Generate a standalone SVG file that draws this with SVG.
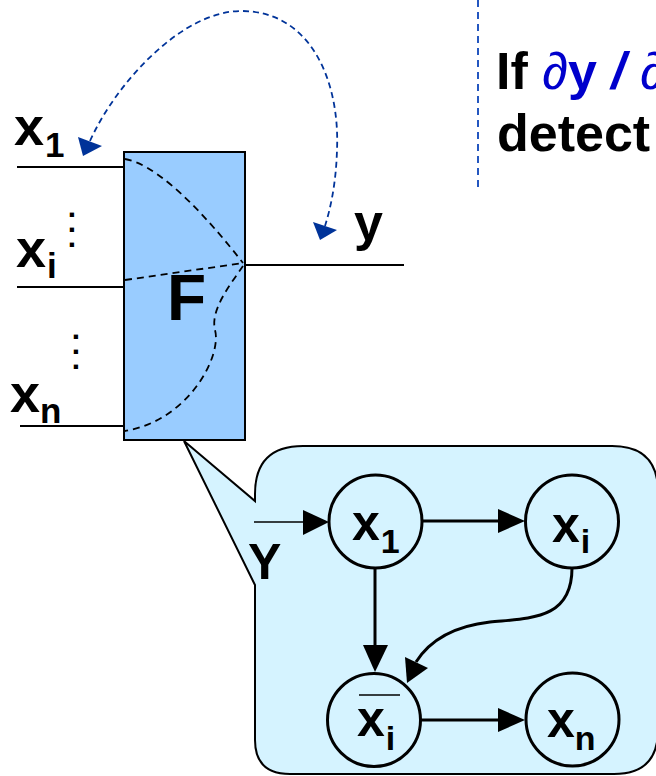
<svg xmlns="http://www.w3.org/2000/svg" width="656" height="776" viewBox="0 0 656 776">
<style>
.lbl{font-family:"Liberation Sans",Arial,sans-serif;font-weight:bold;fill:#000}
.wire{stroke:#000;stroke-width:2;fill:none}
.dash{stroke:#000;stroke-width:1.8;fill:none;stroke-dasharray:7 5}
.node{fill:none;stroke:#000;stroke-width:3}
.edge{stroke:#000;stroke-width:3;fill:none}
.head{fill:#000}
.blue{fill:#0000CC}
.dots{font-family:"Liberation Sans",Arial,sans-serif;font-weight:bold;font-size:30px;fill:#000;text-anchor:middle}
</style>
<rect width="656" height="776" fill="#fff"/>
<!-- vertical blue dashed separator -->
<line x1="478" y1="0" x2="478" y2="190" stroke="#2457C0" stroke-width="2" stroke-dasharray="7 5"/>
<!-- top-right text -->
<text class="lbl" x="496" y="89" font-size="52">If <tspan class="blue" font-style="italic" font-weight="normal">∂</tspan><tspan class="blue">y</tspan><tspan class="blue" font-style="italic"> / </tspan><tspan class="blue" font-style="italic" font-weight="normal">∂</tspan></text>
<text class="lbl" x="497" y="151" font-size="52">detect</text>

<!-- callout -->
<g id="callout">
<path d="M184,441 L255,501 L255,494 Q255,446 303,446 L612,446 Q658,446 658,492 L658,730 Q658,774 614,774 L290,774 Q255,774 255,740 L255,585 Z" fill="#D5F3FF" stroke="#000" stroke-width="2"/>
</g>

<!-- F block -->
<g id="F">
<rect x="124" y="152" width="121" height="288" fill="#99CCFF" stroke="#000" stroke-width="2"/>
<path class="dash" d="M125,159 C150,163 190,195 243,263"/>
<path class="dash" d="M125,280 L243,263"/>
<path class="dash" d="M243,266 C230,285 210,310 215,330 C222,355 190,420 125,431"/>
<text class="lbl" x="167" y="320" font-size="64">F</text>
</g>

<!-- wires -->
<g id="wires">
<line class="wire" x1="17" y1="167" x2="124" y2="167"/>
<line class="wire" x1="17" y1="287" x2="124" y2="287"/>
<line class="wire" x1="20" y1="426" x2="124" y2="426"/>
<line class="wire" x1="245" y1="265" x2="404" y2="265"/>
</g>

<!-- input/output labels -->
<g id="inputs">
<text class="lbl" x="14" y="145" font-size="54">x<tspan font-size="35" dx="1" dy="12">1</tspan></text>
<text class="lbl" x="16" y="267" font-size="54">x<tspan font-size="35" dx="1" dy="11">i</tspan></text>
<text class="lbl" x="10" y="412" font-size="54">x<tspan font-size="35" dx="0" dy="11">n</tspan></text>
<text class="dots"><tspan x="72" y="217">.</tspan><tspan x="72" y="232">.</tspan><tspan x="72" y="247">.</tspan></text>
<text class="dots"><tspan x="76" y="339">.</tspan><tspan x="76" y="354">.</tspan><tspan x="76" y="369">.</tspan></text>
<text class="lbl" x="354" y="240" font-size="52">y</text>
</g>

<!-- blue dashed double arrow -->
<g id="sensitivity">
<path d="M90,141 C115,85 180,12 240,11 C310,10 340,80 337,150 C336,185 330,210 325,226" fill="none" stroke="#003399" stroke-width="1.8" stroke-dasharray="6 4"/>
<polygon points="78,137 102,146 83,156" fill="#003399"/>
<polygon points="313,222 337,230 320,240" fill="#003399"/>
</g>

<!-- graph nodes -->
<g id="n_x1">
<circle class="node" cx="375.5" cy="521.5" r="46.5"/>
<text class="lbl" x="352" y="540" font-size="50">x<tspan font-size="34" dx="1" dy="13">1</tspan></text>
</g>
<g id="n_xi">
<circle class="node" cx="572" cy="521.5" r="46.5"/>
<text class="lbl" x="552" y="542" font-size="50">x<tspan font-size="34" dx="1" dy="11">i</tspan></text>
</g>
<g id="n_xibar">
<circle class="node" cx="374" cy="720" r="46.5"/>
<line x1="359" y1="695" x2="400" y2="695" stroke="#000" stroke-width="1.5"/>
<text class="lbl" x="357" y="736" font-size="50">x<tspan font-size="34" dx="1" dy="14">i</tspan></text>
</g>
<g id="n_xn">
<circle class="node" cx="572.5" cy="719.5" r="46.5"/>
<text class="lbl" x="547" y="737" font-size="50">x<tspan font-size="34" dx="0" dy="13">n</tspan></text>
</g>

<text class="lbl" x="248" y="579" font-size="50">Y</text>

<!-- connectors -->
<g id="connectors">
<line x1="254" y1="522" x2="305" y2="522" stroke="#000" stroke-width="1.5"/>
<polygon class="head" points="303,510 329,522 303,535"/>
<line class="edge" x1="422" y1="521" x2="500" y2="521"/>
<polygon class="head" points="498,509 525,521 498,533"/>
<line class="edge" x1="375" y1="568" x2="375" y2="648"/>
<polygon class="head" points="363,645 375,672 388,645"/>
<path class="edge" d="M572,568 C572,620 530,618 490,622 C455,626 430,640 416,662"/>
<polygon class="head" points="405,657 428,668 407,683"/>
<line class="edge" x1="421" y1="720" x2="500" y2="720"/>
<polygon class="head" points="498,708 525,720 498,732"/>
</g>
</svg>
